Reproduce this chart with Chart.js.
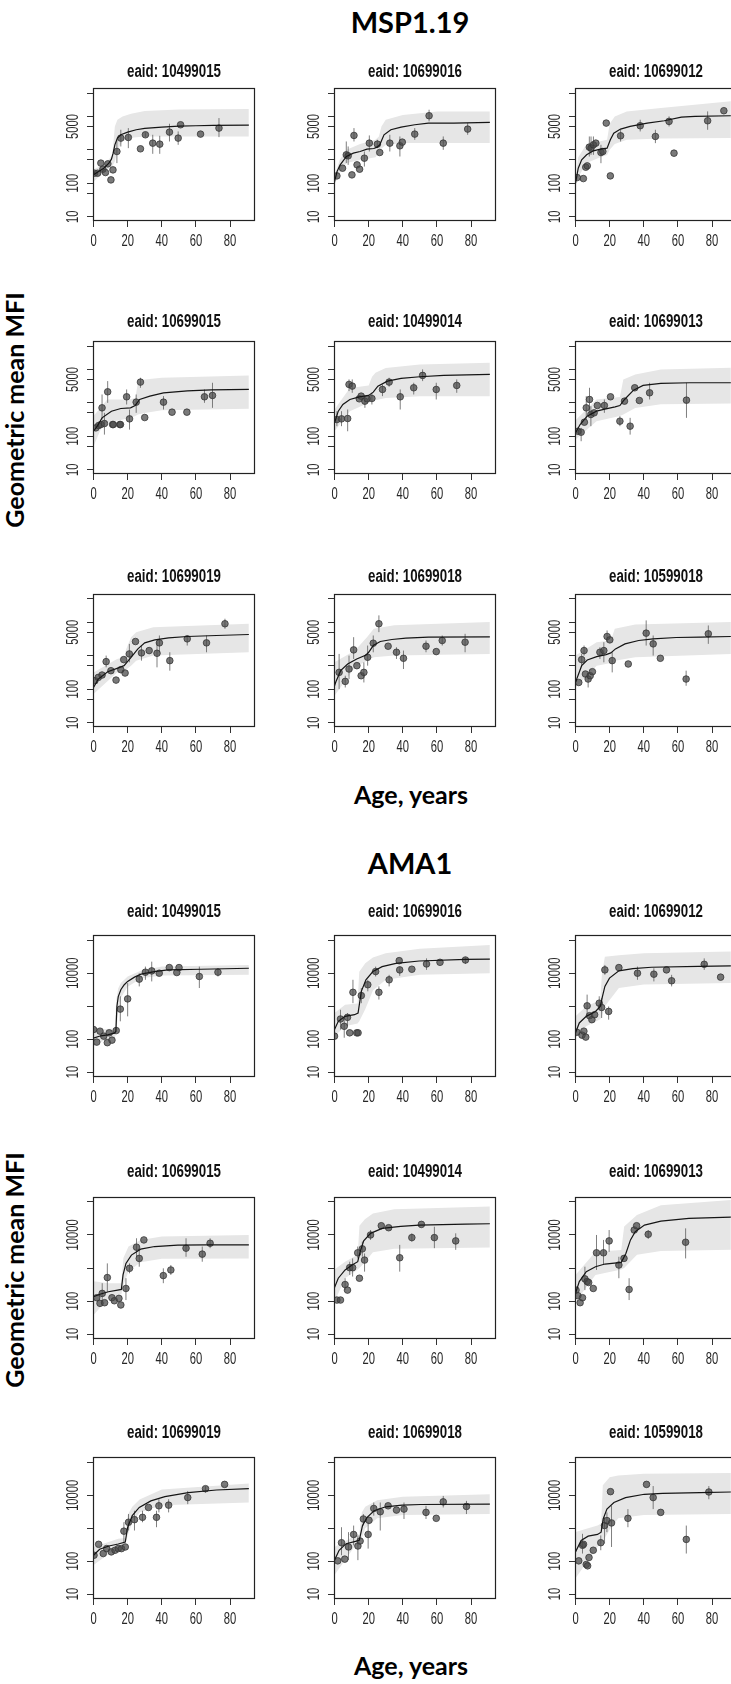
<!DOCTYPE html>
<html>
<head>
<meta charset="utf-8">
<title>MSP1.19 and AMA1 antibody fits by eaid</title>
<script src="https://cdn.jsdelivr.net/npm/chart.js@4.4.1/dist/chart.umd.min.js"></script>
<style>
  html, body { margin: 0; padding: 0; background: #fff; }
  body { width: 731px; height: 1684px; position: relative; overflow: hidden; }
  canvas.panel { position: absolute; }
  .big { position: absolute; font-family: Lato, 'Open Sans', 'Liberation Sans', sans-serif; font-weight: 700;
         color: #000; white-space: nowrap; line-height: 1; transform: translate(-50%, -50%); }
  .big.rot { transform: translate(-50%, -50%) rotate(-90deg); }
</style>
</head>
<body>
<div class="big" style="left:410px;top:21px;font-size:29px;">MSP1.19</div>
<div class="big rot" style="left:14px;top:410px;font-size:25px;">Geometric mean MFI</div>
<div class="big" style="left:411px;top:794px;font-size:25px;">Age, years</div>
<div class="big" style="left:410px;top:862px;font-size:29px;">AMA1</div>
<div class="big rot" style="left:14px;top:1270px;font-size:25px;">Geometric mean MFI</div>
<div class="big" style="left:411px;top:1665px;font-size:25px;">Age, years</div>

<script>
// ---------- panel identifiers ----------
const eaids = ['10499015', '10699016', '10699012',
               '10699015', '10499014', '10699013',
               '10699019', '10699018', '10599018'];

// ---------- axis ticks ----------
const ageTicks = [0, 20, 40, 60, 80];
const mspTicks = [10, 50, 100, 500, 1000, 5000, 10000, 50000];
const mspTickLabels = [10, 100, 5000];
const amaTicks = [10, 100, 1000, 10000, 100000];
const amaTickLabels = [10, 100, 10000];

// ---------- MSP1.19 ----------
// points: [age, geometric mean MFI, lower, upper]  (no interval when only two values)
// fit:    [age, fitted MFI]
// band:   [age, lower, upper]
const msp1Points = [[0.6,200],[2.4,200],[4.3,400],[5.5,263],[7,209],[8.4,380],[10.2,126],[11.4,251],[13.7,891,400,2000],[16,2239,1259,3981],[20.4,2344,1122,4467],[27.5,1072],[30.4,2818,2400,3350],[34.7,1585,759,2818],[38.8,1479,759,2630],[44.5,3388,1778,6026],[49.6,2239,1413,3548],[51,5623],[62.7,2951],[73.5,4467,2399,8913]];
const msp1Fit = [[0,178],[3,224],[6,282],[9,398],[10.5,525],[11.5,794],[12.5,1413],[14,2239],[16,2818],[20,3388],[25,3981],[30,4365],[40,4786],[50,5129],[60,5248],[70,5370],[91,5495]];
const msp1Band = [[0,110,260],[4,170,320],[8,250,450],[11,320,700],[12.5,450,5000],[14,1000,7900],[17,1800,10000],[22,2300,12000],[30,2500,14500],[50,2500,16000],[91,2500,16600]];

const msp2Points = [[1.4,166],[4.7,282],[6.9,708,398,1778],[8,661,355,1259],[10.2,178],[11.4,2692,1778,4467],[13.2,355],[14.7,263],[17.5,562,316,891],[20.4,1585,891,2692],[25.1,1479,1122,1995],[26.5,832],[32.4,1585,891,2818],[38.3,1318,631,2512],[39.7,1698],[47,2951,1995,4467],[55.4,10471,7079,15849],[63.7,1585,1000,2512],[78,4169,2818,6310]];
const msp2Fit = [[0,112],[1.5,224],[3.3,355],[7,631],[11,794],[15,891],[19,1047],[23,1096],[25,1202],[26.5,1413],[29,2818],[33,3981],[39,4786],[47,5623],[55,6310],[70,6310],[91,6607]];
const msp2Band = [[0,90,160],[3,200,500],[7,400,1000],[15,500,1500],[24,600,2000],[26,800,2500],[27.5,1100,5000],[30,1400,8000],[40,1600,11000],[60,1600,14000],[91,1600,14100]];

const msp3Points = [[1,148],[4.6,138],[6,302],[6.9,331],[8.1,1202,631,2512],[9.1,1122,708,2512],[10.5,1413,708,2512],[11.9,1585],[14.9,832,398,1413],[16,891],[18,6310],[20.4,166],[26.4,2630,1778,3981],[37.9,5248,3548,7943],[46.8,2512,1585,3981],[54.8,7079,5012,10000],[57.7,794],[77.4,7413,3981,14125],[86.9,14791]];
const msp3Fit = [[0,100],[1.6,282],[3.6,501],[6.5,708],[10.5,933],[14.5,1047],[18.5,1122],[20.4,1995],[22.4,3162],[26.4,4169],[32,5012],[42,6310],[52,7413],[62,9550],[70,10000],[91,10471]];
const msp3Band = [[0,80,150],[1.6,150,600],[6.5,400,1500],[14.5,600,1800],[18.5,700,2000],[20,1000,6000],[23,1500,10000],[30,2000,14000],[50,2200,17800],[91,2240,28200]];

const msp4Points = [[1.4,178],[3,209],[4.4,224],[5,708,316,1778],[6.4,240,112,501],[8.3,2138,1000,4467],[11.2,224],[11.6,224],[15.4,224],[15.8,224],[19.4,1514,891,2512],[21.1,331,158,631],[25,1047,501,1778],[27.5,4169,2818,5623],[30,363],[41,1047,631,1585],[46,525],[54.7,525],[65,1514,1000,2512],[69.7,1660,708,3981]];
const msp4Fit = [[0,141],[2.2,200],[5,355],[10.5,562],[16,676],[21.7,708],[24.4,832],[27,1259],[33,1585],[41,1995],[55,2291],[69,2455],[91,2512]];
const msp4Band = [[0,50,400],[5,200,800],[8,251,1259],[21,350,1259],[24.5,400,1400],[26,450,4000],[30,500,5000],[40,600,5600],[91,661,6607]];

const msp5Points = [[1.4,316,200,562],[4.1,331,200,562],[7.7,339,141,631],[8.5,3548,2239,5012],[10.4,3162,1995,5012],[14.5,1318],[15.6,1585],[17.8,1122,708,1585],[19.1,1318],[21.9,1349,891,1995],[28.1,2512,1585,3548],[32,4169,3020,5623],[38.5,1514,631,2512],[46.4,2818,1778,3981],[51.6,6607,4467,10000],[59.6,2512,1259,3981],[71.6,3311,1995,5012]];
const msp5Fit = [[0,251],[2.2,562],[4.9,891],[9,1259],[14.5,1514],[20,1660],[22.7,2089],[25.4,3162],[31,4467],[39,5370],[50,6026],[64,6607],[91,7079]];
const msp5Band = [[0,141,631],[9,560,2800],[20,1000,3300],[22,1100,6000],[24,1200,8000],[30,1400,11000],[50,1585,14000],[91,1585,15849]];

const msp6Points = [[1.4,141],[3.3,132,71,178],[5.2,263],[6.3,708,316,1585],[8.2,1259,447,2818],[9,447,200,794],[10.9,501],[12.8,832],[16.9,832,501,1259],[20.5,1514],[26,282,200,398],[28.7,1122],[32,200,112,355],[34.7,2818],[37.4,1175],[43.4,1995,1259,3981],[65,1202,355,3981]];
const msp6Fit = [[0,126],[2.7,224],[6.8,398],[12.3,562],[17.8,661],[23.2,759],[26,832],[28.7,1259],[34,2399],[39.6,3311],[50,3802],[67,3981],[91,3981]];
const msp6Band = [[0,80,300],[12.3,282,1259],[26,400,1500],[28,450,5000],[35,700,7000],[50,900,10000],[91,955,11220]];

const msp7Points = [[0.8,178],[2.8,224],[5,263],[7.4,661,447,1000],[10.2,355],[13.2,186],[16,380],[17.7,759],[18.5,302],[21,1122,631,2239],[24.6,2630],[28.1,1202,708,1995],[32.6,1413],[37.2,1175,447,2512],[38.6,2399,1259,3981],[44.7,708,355,1259],[54.9,3162,1995,3981],[66.2,2399,1259,3981],[77,8913,6310,12589]];
const msp7Fit = [[0,112],[2.8,200],[8.3,331],[13.8,417],[17.9,501],[22,891],[26,1585],[30,2399],[35.9,2951],[44,3388],[55,3715],[72,3981],[91,4266]];
const msp7Band = [[0,71,316],[13.8,316,794],[18,350,900],[19,380,1500],[22,500,3500],[25,700,5000],[35,1000,7000],[91,1259,8913]];

const msp8Points = [[2.7,316,100,1122],[6.3,170,112,251],[8.5,398,200,1000],[11.2,1479,794,3548],[13.1,501],[15.6,251],[17.2,316,158,631],[19.4,891,501,1995],[22.7,2344,1259,3981],[26,8913,5012,15849],[31.4,1905],[36.3,1259,794,1778],[40.4,832,398,1413],[53.6,1905,1259,2818],[59.6,1318],[63.1,2818,1995,3981],[76.5,2512,1259,4467]];
const msp8Fit = [[0,126],[0.8,166],[3.6,355],[7.7,562],[13,794],[18.5,1047],[20,1259],[22.7,1995],[26.8,2630],[33.6,3020],[41.8,3311],[55,3548],[91,3631]];
const msp8Band = [[0,63,631],[12,447,1413],[19,708,3548],[23,900,6300],[35,1000,8000],[91,1122,10000]];

const msp9Points = [[1.9,158],[3.6,759,501,1122],[5,1413,1000,1995],[5.8,282],[7.4,200,112,316],[8.6,251],[9.9,331],[14.3,1259,794,1778],[16.6,1413,631,2512],[18.5,3715,2512,5623],[20.1,2951],[21.5,708,316,1259],[30.9,562],[41.4,4677,1995,11220],[45.5,2239,1000,3981],[49.7,832],[64.8,200,126,355],[77.8,4467,2239,7943]];
const msp9Fit = [[0,160],[3.6,501],[6.9,741],[12.4,933],[17.9,1072],[20.7,1202],[23.4,1585],[29,2239],[37,2818],[45.5,3162],[59,3467],[73,3548],[91,3715]];
const msp9Band = [[0,112,1000],[12.4,501,2512],[20.7,600,2800],[23,700,6300],[35,900,8500],[91,1122,10000]];

// ---------- AMA1 ----------
const ama1Points = [[0,195],[1.9,81],[3.8,174],[6,123],[8.1,78],[9.2,155],[10.8,93],[13.3,182],[15.7,813,347,1995],[20,1660,490,5012],[26.8,6607,3981,10000],[30.4,10715,6310,15849],[34.1,11749,5623,22387],[38.5,10000],[44.4,14791],[48.8,10471],[50.1,14791],[62,7943,3548,15849],[72.9,10715,7943,14125]];
const ama1Fit = [[0,107],[4.3,126],[8.2,135],[12.2,151],[13.1,170],[13.7,977],[14.5,1950],[16,3162],[18,4467],[20,5623],[24,7586],[27.8,9333],[35.7,11220],[43.5,12589],[63,13183],[91,14125]];
const ama1Band = [[0,60,220],[6,90,200],[12.5,110,210],[13.3,150,1500],[14.5,800,3500],[16,1800,5000],[20,3900,7900],[28,7000,12000],[40,8500,16000],[91,8900,17800]];

const ama2Points = [[0,123],[3.5,407,195,776],[5.7,245,110,490],[7.6,457,245,617],[8.9,155],[10.8,2630,1230,6310],[13,155],[13.8,155],[15.7,2089,1230,3548],[19.5,4467,2818,6310],[24.1,11220,7943,15849],[26,2630,1585,3981],[32,6310,3981,8913],[37.9,23988],[38.2,12589,8318,15849],[45.3,13183],[53.9,19055,12589,28184],[61.8,21380],[76.7,25119,19055,30200]];
const ama2Fit = [[0,195],[2.2,347],[6.2,490],[11.7,550],[13.8,617],[15.7,2818],[18.4,6310],[22.5,11220],[27.9,15849],[36,19953],[49.6,23442],[76.7,26303],[91,26915]];
const ama2Band = [[0,123,617],[6.2,245,1096],[13.5,300,1200],[14.5,350,11000],[18,800,20000],[22.5,3000,30000],[30,6300,40000],[50,9000,55000],[91,10000,72000]];

const ama3Points = [[0.8,162],[3.8,132],[4.9,174],[6,115],[6.8,1023,490,2239],[8.2,513],[9.6,389],[11.2,550],[13.9,1230,776,1995],[15.3,912,437,1778],[17.2,12589,8913,17783],[19.4,692,389,977],[25.4,14791],[36.3,10000,6310,15849],[45.9,9333,5623,14125],[53.3,12589],[56.3,5888,3981,8913],[75.4,18621,12589,28184],[85,7586]];
const ama3Fit = [[0,155],[2.2,309],[6.3,490],[11.7,692],[14.5,977],[15.8,1995],[17.2,3981],[19.9,7079],[25.4,11749],[33.6,13804],[44.5,15136],[72,16218],[91,16596]];
const ama3Band = [[0,110,490],[6.3,245,1000],[14.5,400,1500],[15.5,500,10000],[17.2,1000,31623],[25.4,3548,35000],[40,4500,40000],[91,5012,45709]];

const ama4Points = [[1.9,126],[3.8,85],[5.1,170,85,347],[6.5,89],[8.1,513,191,1380],[10.8,126],[12.2,102],[14.9,120],[16,76],[19,240,107,490],[21.1,977,692,1380],[25.2,4266,2188,7943],[26.8,1950,1096,3548],[29.5,7079],[40.9,589,347,977],[45.3,871,617,1230],[54.2,3981,2188,7943],[63.7,2630,1549,4467],[68.3,5623,3981,7943]];
const ama4Fit = [[0,135],[3.3,158],[8.7,191],[14.1,214],[16.3,224],[17.3,617],[19,1380],[22.2,2455],[27.6,3715],[35.8,4467],[49.3,4898],[65.6,5012],[91,5012]];
const ama4Band = [[0,38,400],[8.7,120,347],[16.3,160,347],[17.5,300,2000],[20.5,800,4467],[27.6,1500,7000],[40,1900,9000],[91,1950,10000]];

const ama5Points = [[1.4,107],[3.5,107],[6.2,316,214,490],[7.6,214],[8.9,1023,617,1549],[10.6,1023,550,1950],[13.6,2884,1950,4467],[14.6,490],[16.3,3802,2188,6310],[17.6,1738,776,2754],[21.1,10000,7079,14125],[27.4,19055],[31.7,16596],[38.2,2042,776,5012],[45.3,8318,6310,11220],[50.9,20893],[58.5,8318,3981,17783],[71,6607,3548,11220]];
const ama5Fit = [[0,257],[2.2,490],[6.2,871],[10.3,1230],[13.6,1549],[15,3090],[17.1,6607],[21.1,11220],[27.9,15849],[38.8,18197],[49.6,19953],[76.7,21380],[91,21878]];
const ama5Band = [[0,95,900],[6.2,490,1549],[13.6,900,2500],[14.6,1000,19000],[17.8,1500,30000],[22.5,3000,45000],[35,3800,60000],[91,4169,72444]];

const ama6Points = [[0.3,214],[1.4,145],[2.7,89],[4.1,126],[5.5,468,214,1096],[6.8,389],[7.7,363],[10.4,240],[12.3,2884,871,10000],[16.4,2884,1230,7079],[19.7,6607,3090,14125],[25.4,1230,490,2188],[28.4,1950],[31.4,224,107,490],[34.4,14125],[35.8,19055],[42.6,10471,7586,14125],[64.5,6026,1950,15849]];
const ama6Fit = [[0,170],[2.2,389],[6.3,776],[11.7,1096],[17.2,1318],[26.8,1479],[29.5,2754],[32.2,7079],[35,12589],[40.4,19953],[50,26303],[66.4,31623],[91,34674]];
const ama6Band = [[0,95,617],[11.7,617,3090],[26.8,900,3500],[28.5,1000,18000],[36,2500,40000],[50,3300,80000],[91,3548,114815]];

const ama7Points = [[0.3,151],[3,324],[5.7,170],[7.7,240],[10.4,191],[12.6,214],[14.5,240],[16.4,240],[17.8,813,380,1514],[18.6,269],[20.5,1514,851,2692],[24,1820,851,3388],[28.7,2138,1514,3388],[32.2,4266],[36.9,2138,1072,3388],[38.3,4786,3020,7586],[44,5012,3020,7586],[55.2,8511,5370,13490],[65.6,15849,12023,19055],[76.8,21380]];
const ama7Fit = [[0,151],[3.6,229],[9,288],[14.5,331],[18.6,380],[20,1072],[22.7,2399],[26.8,4266],[33.6,6761],[41.8,9120],[55.5,12023],[72,14454],[91,15849]];
const ama7Band = [[0,76,269],[14.5,269,479],[18.6,320,500],[20,600,2500],[22.7,1500,4500],[27,3000,7500],[40,5000,15000],[91,6026,22909]];

const ama8Points = [[1.9,102],[4.1,363,151,1072],[6,115],[8.2,269,107,759],[11.2,646,302,1202],[13.7,288,107,603],[15,407],[16.9,1905,1202,2692],[19.7,646,240,1514],[20.2,1738],[23,3981,2399,6026],[26.8,3162,851,6026],[31.4,4786],[36.3,3548],[40.7,3802,1905,6026],[53.6,3020,1905,4786],[59.6,1995],[63.7,6310,4266,9550],[77.3,4571,2692,6761]];
const ama8Fit = [[0,107],[2.7,214],[6.8,339],[12.3,398],[14.5,427],[16.4,1202],[19.1,2138],[23.2,3388],[30,4467],[39.6,5012],[50.5,5248],[91,5370]];
const ama8Band = [[0,38,270],[12.3,302,603],[14.5,330,650],[16,500,3000],[18,1000,4500],[25,2000,7000],[40,2500,9000],[91,2692,10715]];

const ama9Points = [[1.9,102],[4.1,302,170,676],[4.7,324],[6.3,79],[7.1,72],[7.9,129],[10.4,214],[14.8,363,214,603],[17,1202,339,2138],[18.4,1698,759,3020],[20.5,12882],[21.1,1445,269,4786],[30.7,1995,1072,3802],[41.6,21380],[45.5,8511,3802,19055],[49.9,3020],[64.9,457,170,1202],[78.1,12589,7586,19055]];
const ama9Fit = [[0,191],[3.3,427],[7.4,575],[12.9,646],[15,759],[16.2,1905],[18.4,3802],[22.5,6026],[29.3,8511],[40.3,10715],[51,11482],[73,12023],[91,12589]];
const ama9Band = [[0,30,760],[12.9,269,1202],[15,350,1400],[16,400,20000],[20,900,35000],[25,2000,40000],[40,2500,45000],[91,2692,47863]];

// ---------- page layout ----------
const FONT = "'Liberation Sans', Arial, Helvetica, sans-serif";
const colLeft = [92.5, 333.5, 574.5];   // left edge of each plot frame
const frameWidth = 161.5;
const yAxisSpace = 75, rightSpace = 10, xAxisSpace = 36, titleAbove = 14;

const groups = [
  { tops: [88, 340.7, 593.3], titleY: [72, 321.7, 576.7], frameHeight: 133,
    yMin: Math.pow(10, 0.87), yMax: Math.pow(10, 4.85), ticks: mspTicks, labels: mspTickLabels,
    panels: [[msp1Points, msp1Fit, msp1Band], [msp2Points, msp2Fit, msp2Band], [msp3Points, msp3Fit, msp3Band],
             [msp4Points, msp4Fit, msp4Band], [msp5Points, msp5Fit, msp5Band], [msp6Points, msp6Fit, msp6Band],
             [msp7Points, msp7Fit, msp7Band], [msp8Points, msp8Fit, msp8Band], [msp9Points, msp9Fit, msp9Band]] },
  { tops: [935, 1196.7, 1457.7], titleY: [911.7, 1171.7, 1433.3], frameHeight: 142,
    yMin: Math.pow(10, 0.85), yMax: Math.pow(10, 5.15), ticks: amaTicks, labels: amaTickLabels,
    panels: [[ama1Points, ama1Fit, ama1Band], [ama2Points, ama2Fit, ama2Band], [ama3Points, ama3Fit, ama3Band],
             [ama4Points, ama4Fit, ama4Band], [ama5Points, ama5Fit, ama5Band], [ama6Points, ama6Fit, ama6Band],
             [ama7Points, ama7Fit, ama7Band], [ama8Points, ama8Fit, ama8Band], [ama9Points, ama9Fit, ama9Band]] }
];

// narrow text: horizontal squeeze along the baseline
function narrowText(ctx, text, x, y, font, squeeze, angle) {
  ctx.save();
  ctx.translate(x, y);
  if (angle) ctx.rotate(angle);
  ctx.scale(squeeze, 1);
  ctx.font = font;
  ctx.textAlign = 'center';
  ctx.textBaseline = 'middle';
  ctx.fillText(text, 0, 0);
  ctx.restore();
}

// frame around the plotting region
const framePlugin = {
  id: 'frame',
  afterDatasetsDraw(chart) {
    const a = chart.chartArea, ctx = chart.ctx;
    ctx.save();
    ctx.strokeStyle = '#222';
    ctx.lineWidth = 1.2;
    ctx.strokeRect(Math.round(a.left) + 0.5, Math.round(a.top) + 0.5,
                   Math.round(a.right - a.left) - 1, Math.round(a.bottom - a.top) - 1);
    ctx.restore();
  }
};

// panel title and tick labels in a condensed face
const labelPlugin = {
  id: 'panelLabels',
  afterDraw(chart, args, opts) {
    const ctx = chart.ctx, a = chart.chartArea;
    ctx.save();
    ctx.fillStyle = '#111';
    narrowText(ctx, opts.title, (a.left + a.right) / 2, opts.titleY, 'bold 17.5px ' + FONT, 0.76, 0);
    ctx.fillStyle = '#262626';
    const sx = chart.scales.x, sy = chart.scales.y;
    sx.ticks.forEach(t => {
      narrowText(ctx, String(t.value), sx.getPixelForValue(t.value), a.bottom + 20, '16.5px ' + FONT, 0.68, 0);
    });
    sy.ticks.forEach(t => {
      if (!opts.show.includes(t.value)) return;
      narrowText(ctx, String(t.value), a.left - 20, sy.getPixelForValue(t.value), '16.5px ' + FONT, 0.68, -Math.PI / 2);
    });
    ctx.restore();
  }
};

function makePanel(group, idx) {
  const [pts, fit, band] = group.panels[idx];
  const row = Math.floor(idx / 3), col = idx % 3;
  const top = group.tops[row];
  const canvasTop = group.titleY[row] - titleAbove;
  const topSpace = top - canvasTop;

  const cv = document.createElement('canvas');
  cv.className = 'panel';
  cv.width = Math.round(yAxisSpace + frameWidth + rightSpace);
  cv.height = Math.round(topSpace + group.frameHeight + xAxisSpace);
  cv.style.left = (colLeft[col] - yAxisSpace) + 'px';
  cv.style.top = canvasTop + 'px';
  document.body.appendChild(cv);

  const bars = [];
  pts.forEach(p => {
    if (p.length < 4) return;
    bars.push({ x: p[0], y: p[2] }, { x: p[0], y: p[3] }, { x: p[0], y: null });
  });

  new Chart(cv, {
    type: 'line',
    data: {
      datasets: [
        { data: band.map(b => ({ x: b[0], y: b[2] })), fill: '+1', backgroundColor: '#e6e6e6',
          borderWidth: 0, pointRadius: 0, tension: 0, order: 5 },
        { data: band.map(b => ({ x: b[0], y: b[1] })), fill: false, borderWidth: 0,
          pointRadius: 0, tension: 0, order: 4 },
        { data: bars, borderColor: 'rgba(95,95,95,0.8)', borderWidth: 1, pointRadius: 0,
          spanGaps: false, fill: false, order: 3 },
        { data: pts.map(p => ({ x: p[0], y: p[1] })), showLine: false, pointRadius: 3.3,
          pointBackgroundColor: 'rgba(70,70,70,0.72)', pointBorderColor: 'rgba(55,55,55,0.8)',
          pointBorderWidth: 1, order: 2 },
        { data: fit.map(f => ({ x: f[0], y: f[1] })), borderColor: '#151515', borderWidth: 1.2,
          pointRadius: 0, tension: 0, fill: false, order: 1 }
      ]
    },
    options: {
      responsive: false,
      animation: false,
      devicePixelRatio: 1,
      events: [],
      layout: { padding: { left: 0, right: rightSpace, top: topSpace, bottom: 0 } },
      plugins: {
        legend: { display: false },
        tooltip: { enabled: false },
        title: { display: false },
        panelLabels: { title: 'eaid: ' + eaids[idx], titleY: titleAbove, show: group.labels }
      },
      scales: {
        x: {
          type: 'linear', min: -0.3, max: 94.6,
          afterBuildTicks: s => { s.ticks = ageTicks.map(v => ({ value: v })); },
          afterFit: s => { s.height = xAxisSpace; },
          ticks: { display: false },
          grid: { display: true, drawOnChartArea: false, drawTicks: true, tickLength: 6, color: '#333' },
          border: { display: false }
        },
        y: {
          type: 'logarithmic', min: group.yMin, max: group.yMax,
          afterBuildTicks: s => { s.ticks = group.ticks.map(v => ({ value: v })); },
          afterFit: s => { s.width = yAxisSpace; },
          ticks: { display: false },
          grid: { display: true, drawOnChartArea: false, drawTicks: true, tickLength: 6, color: '#333' },
          border: { display: false }
        }
      }
    },
    plugins: [framePlugin, labelPlugin]
  });
}

groups.forEach(g => { for (let i = 0; i < 9; i++) makePanel(g, i); });
</script>
</body>
</html>
